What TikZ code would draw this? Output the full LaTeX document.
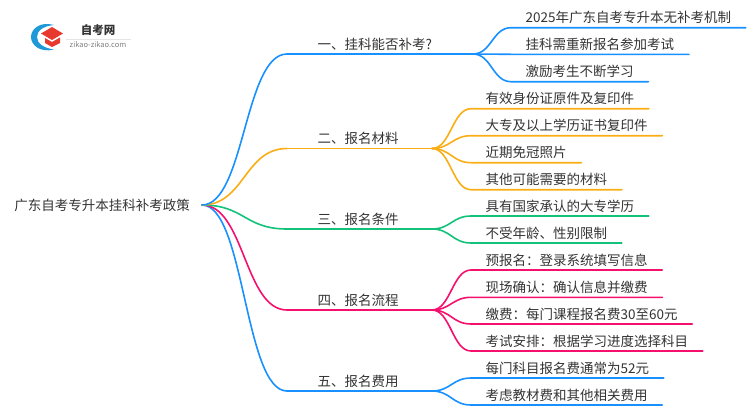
\documentclass[tikz,border=0pt]{standalone}
\usepackage{fontspec}
\setmainfont{Noto Sans CJK SC}
\definecolor{txtgray}{HTML}{333333}
\definecolor{lblue}{HTML}{1890FF}
\definecolor{lorange}{HTML}{FAAD14}
\definecolor{lgreen}{HTML}{13C27A}
\definecolor{lpink}{HTML}{F5106D}
\definecolor{logoblue}{HTML}{1F9AD6}
\definecolor{logored}{HTML}{E8392F}
\tikzset{
  rootnode/.style={anchor=east, inner xsep=12pt, inner ysep=0pt, text=txtgray, font=\fontsize{13.5}{16}\selectfont},
  branch/.style={anchor=south west, inner xsep=30.5pt, inner ysep=2.7pt, text height=11.5pt, text depth=2pt, text=txtgray, font=\fontsize{13.5}{16}\selectfont},
  leaf/.style={anchor=south west, inner xsep=14.5pt, inner ysep=2.7pt, text height=11.5pt, text depth=2pt, text=txtgray, font=\fontsize{13.5}{16}\selectfont},
  link/.style={line width=1.6pt, line cap=round}
}
\begin{document}
\begin{tikzpicture}[x=1pt, y=-1pt]
\useasboundingbox (0,0) rectangle (750,410);
% logo
\fill[logoblue] (54,25) .. controls (40,21) and (31,29) .. (31,37) .. controls (31,45) and (40,53) .. (54,49.5) .. controls (43,48) and (37,43) .. (37,37) .. controls (37,31) and (43,26) .. (54,25) -- cycle;
\fill[logored] (52,27) -- (63,33.5) -- (52,40) -- (41,33.5) -- cycle;
\fill[logored] (45,38) -- (52,42) -- (60,37.5) -- (60,43) -- (52,47) -- (45,43) -- cycle;
\node[inner sep=0pt, text=txtgray, font=\fontsize{11.5}{14}\selectfont\bfseries] (logotitle) at (98,30.5) {自考网};
\node[inner sep=0pt, text=gray, font=\fontsize{7.5}{9}\selectfont] (logourl) at (98,45) {zikao-zikao.com};
\coordinate (rulea) at (66,39);
\coordinate (ruleb) at (131,39);
\draw[color=black!10, line width=0.6pt] (rulea) -- (ruleb);
% root and branches
\node[rootnode] (root) at (202,205) {广东自考专升本挂科补考政策};
\node[branch] (b1) at (287,54) {一、挂科能否补考?};
\node[branch] (b2) at (287,148.5) {二、报名材料};
\node[branch] (b3) at (287,229) {三、报名条件};
\node[branch] (b4) at (287,310) {四、报名流程};
\node[branch] (b5) at (287,391) {五、报名费用};
\coordinate (f1) at (473,54);
\coordinate (f2) at (432,148.5);
\coordinate (f3) at (432,229);
\coordinate (f4) at (432,310);
\coordinate (f5) at (432,391);
% leaves
\node[leaf] (a1) at (511,27.7) {2025年广东自考专升本无补考机制};
\node[leaf] (a2) at (511,54.3) {挂科需重新报名参加考试};
\node[leaf] (a3) at (511,81.7) {激励考生不断学习};
\node[leaf] (c1) at (471,108.7) {有效身份证原件及复印件};
\node[leaf] (c2) at (471,135.7) {大专及以上学历证书复印件};
\node[leaf] (c3) at (471,162.7) {近期免冠照片};
\node[leaf] (c4) at (471,189.7) {其他可能需要的材料};
\node[leaf] (d1) at (471,216) {具有国家承认的大专学历};
\node[leaf] (d2) at (471,243) {不受年龄、性别限制};
\node[leaf] (e1) at (471,270) {预报名\char"FF1A 登录系统填写信息};
\node[leaf] (e2) at (471,297.3) {现场确认\char"FF1A 确认信息并缴费};
\node[leaf] (e3) at (471,324) {缴费\char"FF1A 每门课程报名费30至60元};
\node[leaf] (e4) at (471,351) {考试安排\char"FF1A 根据学习进度选择科目};
\node[leaf] (g1) at (471,378) {每门科目报名费通常为52元};
\node[leaf] (g2) at (471,405) {考虑教材费和其他相关费用};
% connectors
\foreach \to/\col in {b5/lblue, b4/lpink, b3/lgreen, b2/lorange, b1/lblue}
\draw [link, color=\col] (root.east) .. controls +(42.5,0) and +(-42.5,0) .. (\to.south west);
\foreach \from/\to/\col in {b1/f1/lblue, b2/f2/lorange, b3/f3/lgreen, b4/f4/lpink, b5/f5/lblue}
\draw [link, color=\col] (\from.south west) -- (\to);
\foreach \from/\to/\col in {f1/a1/lblue, f1/a2/lblue, f1/a3/lblue, f2/c1/lorange, f2/c2/lorange, f2/c3/lorange, f2/c4/lorange, f3/d1/lgreen, f3/d2/lgreen, f4/e1/lpink, f4/e2/lpink, f4/e3/lpink, f4/e4/lpink, f5/g1/lblue, f5/g2/lblue}
\draw [link, color=\col] (\from) .. controls +(18.5,0) and +(-18.5,0) .. (\to.south west) -- (\to.south east);
\end{tikzpicture}
\end{document}
